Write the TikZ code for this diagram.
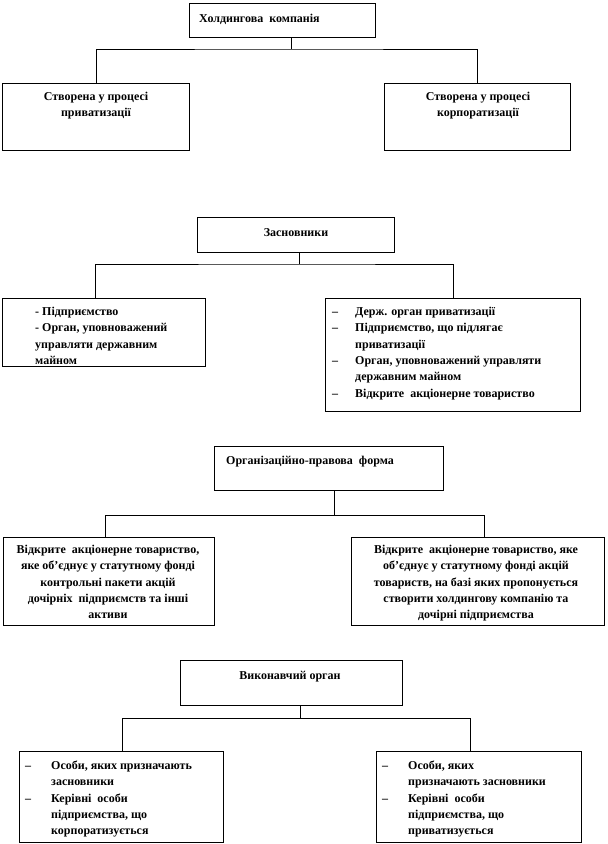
\documentclass[tikz,border=0pt]{standalone}
\usepackage{fontspec}
\setmainfont{Liberation Serif}
\newcommand\diagfont{\fontsize{12}{16.3}\selectfont\bfseries}
\begin{document}
\begin{tikzpicture}[x=1pt,y=-1pt,
  box/.style={draw, line width=0.8pt, inner sep=0pt, anchor=north west},
  conn/.style={draw, line width=0.8pt},
  txt/.style={inner sep=0pt, font=\diagfont, anchor=north},
  txtl/.style={inner sep=0pt, font=\diagfont, anchor=north west}]
\useasboundingbox (0,0) rectangle (608,844);
% ---------- section 1 ----------
\node[box, minimum width=186pt, minimum height=34pt] (b1) at (189,3) {};
\node[box, minimum width=187pt, minimum height=67pt] (l1) at (2,83) {};
\node[box, minimum width=186pt, minimum height=67pt] (r1) at (384,83) {};
\node[txtl] (t1) at (199,11) {\strut Холдингова~ компанія};
\node[txt, align=center] (tl1) at (96,89) {\strut Створена у процесі\\приватизації};
\node[txt, align=center] (tr1) at (478,89) {\strut Створена у процесі\\корпоратизації};
\coordinate (j1) at (291,49);
\draw[conn] (j1 |- b1.south) -- (j1);
\draw[conn] (l1.north) |- (j1) -| (r1.north);
% ---------- section 2 ----------
\node[box, minimum width=197pt, minimum height=35pt] (b2) at (197,217) {};
\node[box, minimum width=203pt, minimum height=68pt] (l2) at (2,298) {};
\node[box, minimum width=255pt, minimum height=113pt] (r2) at (325,298) {};
\node[txt] (t2) at (296,225) {\strut Засновники};
\node[txtl, align=left] (tl2) at (35,304) {\strut - Підприємство\\- Орган, уповноважений\\управляти державним\\майном};
\node[txtl] (tr2) at (332,304) {\begin{tabular}{@{}l@{\hspace{17pt}}l@{}}
–& Держ. орган приватизації\\
–& Підприємство, що підлягає\\
 & приватизації\\
–& Орган, уповноважений управляти\\
 & державним майном\\
–& Відкрите~ акціонерне товариство
\end{tabular}};
\coordinate (j2) at (299,264);
\coordinate (k2l) at (95,264);
\draw[conn] (j2 |- b2.south) -- (j2);
\draw[conn] (k2l |- l2.north) -- (k2l) -- (j2) -| (r2.north);
% ---------- section 3 ----------
\node[box, minimum width=229pt, minimum height=44pt] (b3) at (214,446) {};
\node[box, minimum width=211pt, minimum height=88pt] (l3) at (3,537) {};
\node[box, minimum width=253pt, minimum height=88pt] (r3) at (351,537) {};
\node[txtl] (t3) at (226,453) {\strut Організаційно-правова~ форма};
\node[txt, align=center] (tl3) at (108,542) {\strut Відкрите~ акціонерне товариство,\\яке об’єднує у статутному фонді\\контрольні пакети акцій\\дочірніх~ підприємств та інші\\активи};
\node[txt, align=center] (tr3) at (476,542) {\strut Відкрите~ акціонерне товариство, яке\\об’єднує у статутному фонді акцій\\товариств, на базі яких пропонується\\створити холдингову компанію та\\дочірні підприємства};
\coordinate (j3) at (334,515);
\coordinate (k3l) at (105,515);
\coordinate (k3r) at (484,515);
\draw[conn] (j3 |- b3.south) -- (j3);
\draw[conn] (k3l |- l3.north) -- (k3l) -- (k3r) -- (k3r |- r3.north);
% ---------- section 4 ----------
\node[box, minimum width=222pt, minimum height=45pt] (b4) at (180,660) {};
\node[box, minimum width=204pt, minimum height=91pt] (l4) at (19,751) {};
\node[box, minimum width=205pt, minimum height=91pt] (r4) at (376,751) {};
\node[txt] (t4) at (290,668) {\strut Виконавчий орган};
\node[txtl] (tl4) at (25,758) {\begin{tabular}{@{}l@{\hspace{20pt}}l@{}}
–& Особи, яких призначають\\
 & засновники\\
–& Керівні~ особи\\
 & підприємства, що\\
 & корпоратизується
\end{tabular}};
\node[txtl] (tr4) at (382,758) {\begin{tabular}{@{}l@{\hspace{20pt}}l@{}}
–& Особи, яких\\
 & призначають засновники\\
–& Керівні~ особи\\
 & підприємства, що\\
 & приватизується
\end{tabular}};
\coordinate (j4) at (300,718);
\coordinate (k4l) at (122,718);
\coordinate (k4r) at (470,718);
\draw[conn] (j4 |- b4.south) -- (j4);
\draw[conn] (k4l |- l4.north) -- (k4l) -- (k4r) -- (k4r |- r4.north);
\end{tikzpicture}
\end{document}
